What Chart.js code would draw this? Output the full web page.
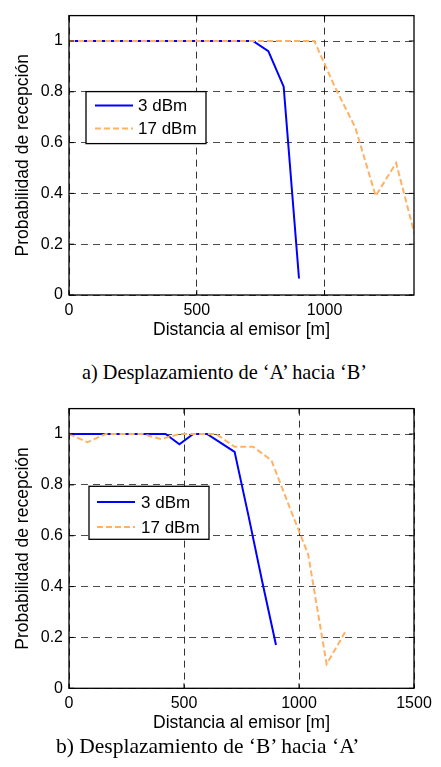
<!DOCTYPE html>
<html>
<head>
<meta charset="utf-8">
<script src="https://cdn.jsdelivr.net/npm/chart.js@4.4.1/dist/chart.umd.min.js"></script>
<style>
  html, body { margin:0; padding:0; background:#fff; }
  body { width:441px; height:767px; position:relative; overflow:hidden; }
  .wrap { position:absolute; left:0; width:441px; }
  .cap { position:absolute; font-family:"Liberation Serif","Times New Roman",serif; color:#000; white-space:nowrap; }
</style>
</head>
<body>
<div class="wrap" style="top:0px;height:345px"><canvas id="c1" width="441" height="345"></canvas></div>
<div class="wrap" style="top:393px;height:345px"><canvas id="c2" width="441" height="345"></canvas></div>
<div class="cap" id="cap1" style="left:82px;top:362px;font-size:20.3px;line-height:20px;"></div>
<div class="cap" id="cap2" style="left:56px;top:736px;font-size:21.5px;line-height:21.5px;"></div>
<script>
// ---- data ----
const seriesNames = ['3 dBm', '17 dBm'];
const distA3  = [0,60,120,180,240,300,360,420,480,540,600,660,720,780,840,900];
const probA3  = [1,1,1,1,1,1,1,1,1,1,1,1,1,0.96,0.82,0.065];
const distA17 = [0,80,160,240,320,400,480,560,640,720,800,880,960,1040,1120,1200,1280,1360];
const probA17 = [1,1,1,1,1,1,1,1,1,1,1,1,1,0.82,0.66,0.39,0.52,0.21];
const distB3  = [0,60,120,180,240,300,360,420,480,540,600,660,720,780,840,900];
const probB3  = [1,1,1,1,1,1,1,1,0.96,1,1,0.965,0.93,0.68,0.42,0.17];
const distB17 = [0,80,160,240,320,400,480,560,640,720,800,880,960,1040,1120,1200];
const probB17 = [1,0.968,1,1,1,0.98,1,1,1,0.95,0.95,0.897,0.71,0.526,0.095,0.22];
const yTicks  = [0,0.2,0.4,0.6,0.8,1];
const xTicksA = [0,500,1000];
const xTicksB = [0,500,1000,1500];
const xMaxA = 1350, xMaxB = 1500, yMin = 0, yMax = 1.1;
const xTitle = 'Distancia al emisor [m]';
const yTitle = 'Probabilidad de recepción';
const captions = ['a) Desplazamiento de \u2018A\u2019 hacia \u2018B\u2019', 'b) Desplazamiento de \u2018B\u2019 hacia \u2018A\u2019'];

document.getElementById('cap1').textContent = captions[0];
document.getElementById('cap2').textContent = captions[1];

const SANS = '"Liberation Sans", Arial, sans-serif';
const BLUE = 'rgb(0,0,255)';
const ORANGE = 'rgb(255,178,102)';

const framePlugin = {
  id: 'frame',
  afterDraw(chart) {
    const {ctx, chartArea: a, scales} = chart;
    ctx.save();
    ctx.setLineDash([]);
    ctx.strokeStyle = '#000';
    ctx.lineWidth = 1.3;
    ctx.strokeRect(a.left, a.top, a.right - a.left, a.bottom - a.top);
    ctx.lineWidth = 1;
    const tl = 5;
    scales.x.ticks.forEach(t => {
      const px = scales.x.getPixelForValue(t.value);
      ctx.beginPath();
      ctx.moveTo(px, a.bottom); ctx.lineTo(px, a.bottom - tl);
      ctx.moveTo(px, a.top); ctx.lineTo(px, a.top + tl);
      ctx.stroke();
    });
    scales.y.ticks.forEach(t => {
      const py = scales.y.getPixelForValue(t.value);
      ctx.beginPath();
      ctx.moveTo(a.left, py); ctx.lineTo(a.left + tl, py);
      ctx.moveTo(a.right, py); ctx.lineTo(a.right - tl, py);
      ctx.stroke();
    });
    // legend box
    const o = chart.options.plugins.boxLegend;
    const bx = a.left + o.dx, by = a.top + o.dy;
    ctx.fillStyle = '#fff';
    ctx.fillRect(bx, by, o.w, o.h);
    ctx.lineWidth = 1.3;
    ctx.strokeStyle = '#000';
    ctx.strokeRect(bx, by, o.w, o.h);
    chart.data.datasets.forEach((ds, i) => {
      const ry = by + o.rows[i];
      ctx.save();
      ctx.strokeStyle = ds.borderColor;
      ctx.lineWidth = ds.borderWidth;
      ctx.setLineDash(ds.borderDash || []);
      ctx.beginPath();
      ctx.moveTo(bx + o.lx1, ry); ctx.lineTo(bx + o.lx2, ry);
      ctx.stroke();
      ctx.restore();
      ctx.fillStyle = '#000';
      ctx.font = '17px ' + SANS;
      ctx.textBaseline = 'middle';
      ctx.textAlign = 'left';
      ctx.fillText(ds.label, bx + o.tx, ry + 1);
    });
    ctx.restore();
  }
};

function makeChart(id, d3, p3, d17, p17, xTicks, xMax, geo) {
  const toPts = (xs, ys) => xs.map((x, i) => ({x, y: ys[i]}));
  return new Chart(document.getElementById(id), {
    type: 'line',
    data: {
      datasets: [
        { label: seriesNames[0], data: toPts(d3, p3), borderColor: BLUE, borderWidth: 2,
          pointRadius: 0, tension: 0, fill: false, order: 1 },
        { label: seriesNames[1], data: toPts(d17, p17), borderColor: ORANGE, borderWidth: 2,
          borderDash: [6, 3], pointRadius: 0, tension: 0, fill: false, order: 0 }
      ]
    },
    options: {
      responsive: false,
      animation: false,
      events: [],
      layout: { padding: { left: 0, right: geo.padR, top: geo.padT, bottom: 0 } },
      plugins: {
        legend: { display: false },
        tooltip: { enabled: false },
        boxLegend: geo.legend
      },
      scales: {
        x: {
          type: 'linear', min: 0, max: xMax,
          afterBuildTicks: s => { s.ticks = xTicks.map(v => ({value: v})); },
          afterFit: s => { s.height = geo.xH; },
          ticks: { autoSkip: false, maxRotation: 0, padding: 6, color: '#000',
                   font: { family: SANS, size: 16 }, callback: v => String(v) },
          grid: { color: 'rgba(0,0,0,0.8)', lineWidth: 1, drawTicks: false, tickLength: 0 },
          border: { display: false, dash: [7, 5] },
          title: { display: true, text: xTitle, color: '#000',
                   font: { family: SANS, size: 17.5, lineHeight: 1.2 }, padding: { top: 0, bottom: geo.xTitlePad } }
        },
        y: {
          type: 'linear', min: yMin, max: yMax,
          afterBuildTicks: s => { s.ticks = yTicks.map(v => ({value: v})); },
          afterFit: s => { s.width = geo.yW; },
          ticks: { padding: 6, color: '#000', font: { family: SANS, size: 16 },
                   callback: v => String(+Number(v).toFixed(1)) },
          grid: { color: 'rgba(0,0,0,0.7)', lineWidth: 1, drawTicks: false, tickLength: 0 },
          border: { display: false, dash: [7, 5] },
          title: { display: true, text: yTitle, color: '#000',
                   font: { family: SANS, size: 17.5, lineHeight: 1.2 }, padding: { top: 12.5, bottom: 0 } }
        }
      }
    },
    plugins: [framePlugin]
  });
}

makeChart('c1', distA3, probA3, distA17, probA17, xTicksA, xMaxA, {
  padR: 27, padT: 12, xH: 50, yW: 69, xTitlePad: 4.5,
  legend: { dx: 17, dy: 76, w: 120, h: 52, rows: [14, 37], lx1: 9, lx2: 47, tx: 52 }
});
makeChart('c2', distB3, probB3, distB17, probB17, xTicksB, xMaxB, {
  padR: 27, padT: 10.3, xH: 49.7, yW: 69, xTitlePad: 4.5,
  legend: { dx: 20, dy: 77.7, w: 120, h: 53, rows: [15.7, 40.7], lx1: 8, lx2: 46, tx: 52 }
});
</script>
</body>
</html>
